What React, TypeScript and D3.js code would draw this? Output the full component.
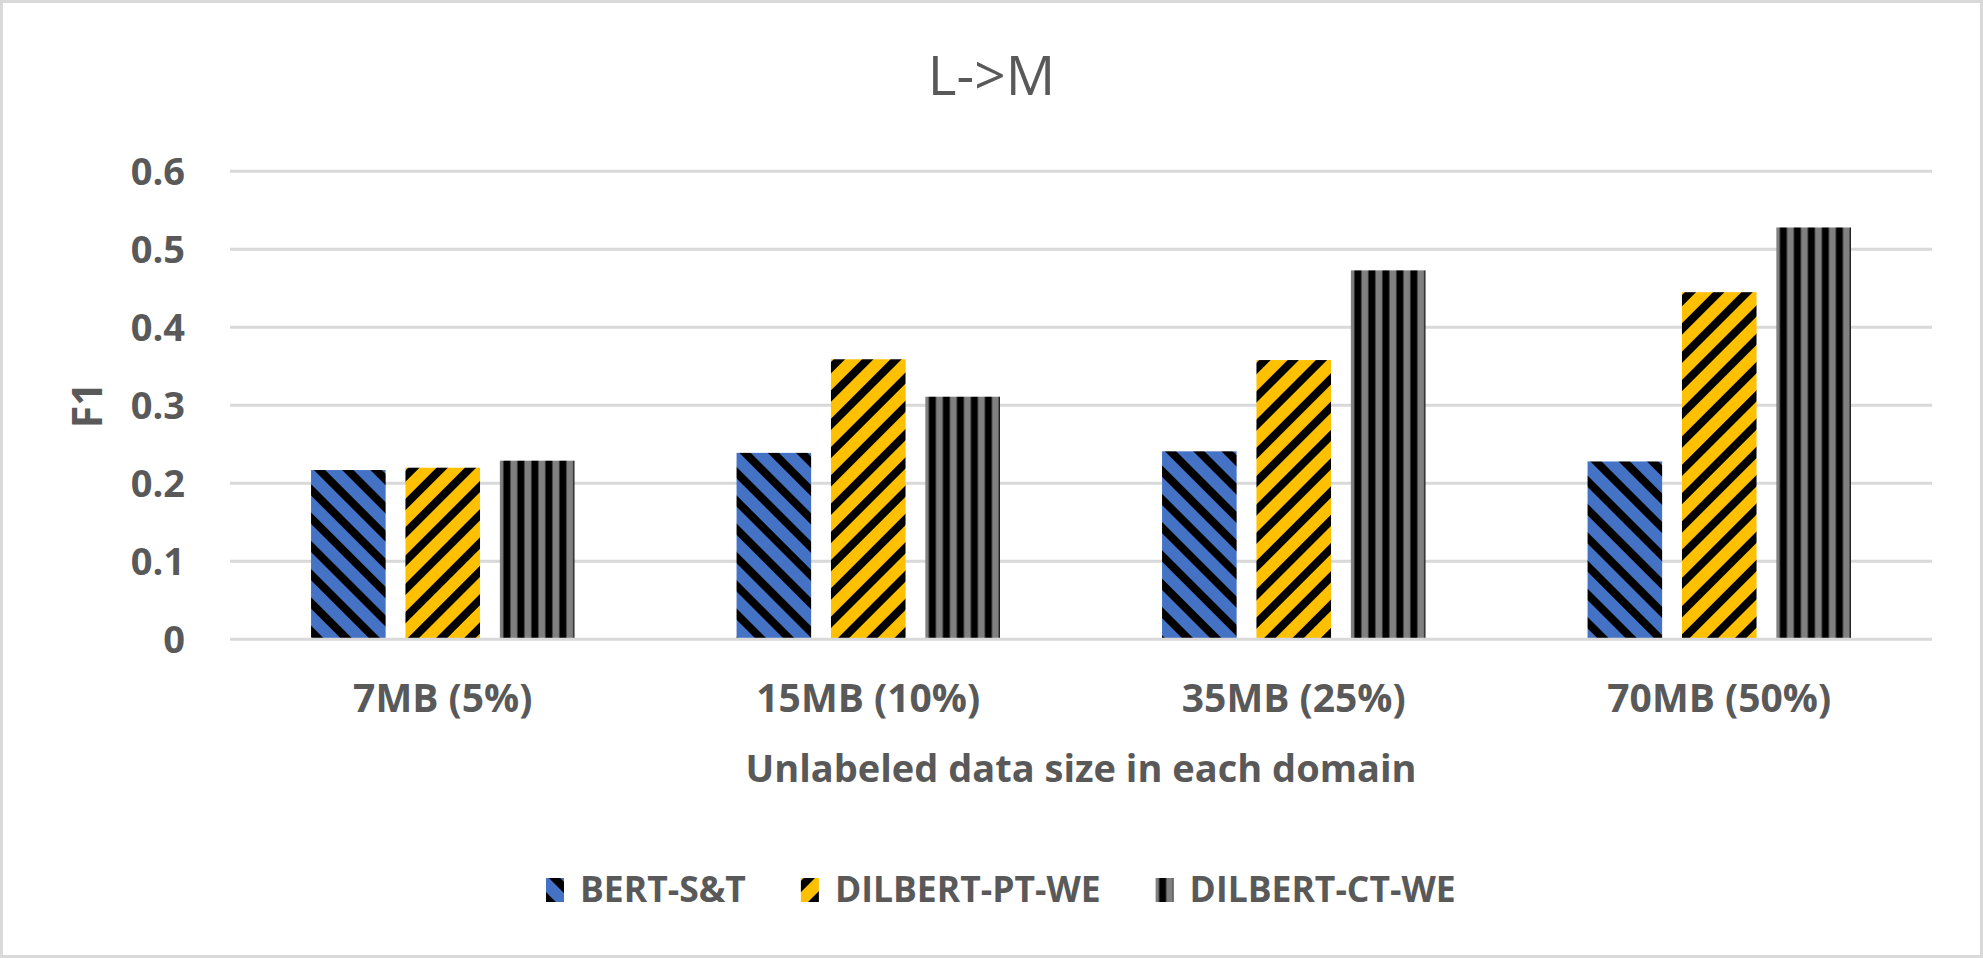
import React, { useEffect, useRef } from 'react';
import * as d3 from 'd3';

// values
const categories = ['7MB (5%)', '15MB (10%)', '35MB (25%)', '70MB (50%)'];
const seriesNames = ['BERT-S&T', 'DILBERT-PT-WE', 'DILBERT-CT-WE'];
const bertST = [0.217, 0.239, 0.241, 0.228];
const dilbertPT = [0.22, 0.359, 0.358, 0.445];
const dilbertCT = [0.229, 0.311, 0.473, 0.528];
const yTicks = [0, 0.1, 0.2, 0.3, 0.4, 0.5, 0.6];
const yTickLabels = ['0', '0.1', '0.2', '0.3', '0.4', '0.5', '0.6'];

const W = 1983;
const H = 958;
const TEXT = '#595959';
const GRID = '#d9d9d9';
const FONT = '"Open Sans", sans-serif';

const App: React.FC = () => {
  const svgRef = useRef<SVGSVGElement>(null);

  useEffect(() => {
    if (!svgRef.current) return;
    const svg = d3.select(svgRef.current);
    svg.selectAll('*').remove();

    const plot = { left: 230, right: 1932, top: 171.3, bottom: 639.3 };
    const series = [bertST, dilbertPT, dilbertCT];
    const fills = ['url(#pat-blue)', 'url(#pat-yellow)', 'url(#pat-gray)'];

    // hatch patterns
    const defs = svg.append('defs');
    const diag = (id: string, color: string, angle: number) => {
      const p = defs.append('pattern')
        .attr('id', id)
        .attr('patternUnits', 'userSpaceOnUse')
        .attr('width', 20)
        .attr('height', 20)
        .attr('patternTransform', `rotate(${angle})`);
      p.append('rect').attr('width', 20).attr('height', 20).attr('fill', color);
      p.append('rect').attr('x', 2).attr('width', 8).attr('height', 20).attr('fill', '#000');
    };
    diag('pat-blue', '#4472c4', -45);
    diag('pat-yellow', '#ffc000', 45);
    const pg = defs.append('pattern')
      .attr('id', 'pat-gray')
      .attr('patternUnits', 'userSpaceOnUse')
      .attr('width', 14)
      .attr('height', 10);
    pg.append('rect').attr('width', 14).attr('height', 10).attr('fill', '#808080');
    pg.append('rect').attr('x', 3.5).attr('width', 7).attr('height', 10).attr('fill', '#000');

    // chart border
    svg.append('rect')
      .attr('x', 1.5).attr('y', 1.5)
      .attr('width', W - 3).attr('height', H - 3)
      .attr('fill', '#fff')
      .attr('stroke', GRID)
      .attr('stroke-width', 3);

    const x0 = d3.scaleBand<string>()
      .domain(categories)
      .range([plot.left, plot.right])
      .paddingInner(0.381)
      .paddingOuter(0.1905);
    const x1 = d3.scaleBand<string>()
      .domain(seriesNames)
      .range([0, x0.bandwidth()])
      .paddingInner(0.21);
    const y = d3.scaleLinear().domain([0, 0.6]).range([plot.bottom, plot.top]);

    // title
    svg.append('text')
      .attr('x', W / 2)
      .attr('y', 95)
      .attr('text-anchor', 'middle')
      .attr('font-family', FONT)
      .attr('font-size', 55)
      .attr('fill', TEXT)
      .text('L->M');

    // gridlines
    svg.append('g')
      .selectAll('line')
      .data(yTicks.filter(t => t > 0))
      .enter()
      .append('line')
      .attr('x1', plot.left)
      .attr('x2', plot.right)
      .attr('y1', d => y(d))
      .attr('y2', d => y(d))
      .attr('stroke', GRID)
      .attr('stroke-width', 3);

    // y tick labels
    svg.append('g')
      .selectAll('text')
      .data(yTicks)
      .enter()
      .append('text')
      .attr('x', 185)
      .attr('y', d => y(d) + 13.5)
      .attr('text-anchor', 'end')
      .attr('font-family', FONT)
      .attr('font-weight', 'bold')
      .attr('font-size', 38)
      .attr('fill', TEXT)
      .text((d, i) => yTickLabels[i]);

    svg.append('text')
      .attr('transform', `translate(102, ${(plot.top + plot.bottom) / 2}) rotate(-90)`)
      .attr('text-anchor', 'middle')
      .attr('font-family', FONT)
      .attr('font-weight', 'bold')
      .attr('font-size', 41)
      .attr('fill', TEXT)
      .text('F1');

    // bars
    const groups = svg.append('g')
      .selectAll('g')
      .data(categories)
      .enter()
      .append('g')
      .attr('transform', d => `translate(${x0(d)}, 0)`);

    groups.selectAll('g')
      .data((d, ci) => seriesNames.map((s, si) => ({ s, si, v: series[si][ci] })))
      .enter()
      .append('g')
      .attr('transform', d => `translate(${x1(d.s)}, ${y(d.v)})`)
      .append('rect')
      .attr('width', x1.bandwidth())
      .attr('height', d => y(0) - y(d.v))
      .attr('fill', d => fills[d.si]);

    // horizontal axis line
    svg.append('line')
      .attr('x1', plot.left)
      .attr('x2', plot.right)
      .attr('y1', y(0))
      .attr('y2', y(0))
      .attr('stroke', GRID)
      .attr('stroke-width', 3);

    // x labels
    svg.append('g')
      .selectAll('text')
      .data(categories)
      .enter()
      .append('text')
      .attr('x', d => (x0(d) as number) + x0.bandwidth() / 2)
      .attr('y', 712)
      .attr('text-anchor', 'middle')
      .attr('font-family', FONT)
      .attr('font-weight', 'bold')
      .attr('font-size', 39)
      .attr('fill', TEXT)
      .text(d => d);

    svg.append('text')
      .attr('x', (plot.left + plot.right) / 2)
      .attr('y', 782)
      .attr('text-anchor', 'middle')
      .attr('font-family', FONT)
      .attr('font-weight', 'bold')
      .attr('font-size', 38)
      .attr('fill', TEXT)
      .text('Unlabeled data size in each domain');

    // legend
    const legend = svg.append('g');
    let lx = 546;
    seriesNames.forEach((name, i) => {
      const item = legend.append('g').attr('transform', `translate(${lx}, 878)`);
      item.append('rect')
        .attr('width', 18)
        .attr('height', 24)
        .attr('fill', fills[i]);
      const t = item.append('text')
        .attr('x', 34)
        .attr('y', 24)
        .attr('font-family', FONT)
        .attr('font-weight', 'bold')
        .attr('font-size', 35.5)
        .attr('fill', TEXT)
        .text(name);
      const tw = (t.node() as SVGTextElement).getComputedTextLength();
      lx += 34 + tw + 55;
    });
  }, []);

  return (
    <svg
      ref={svgRef}
      width={W}
      height={H}
      style={{ position: 'absolute', left: 0, top: 0, background: '#fff' }}
    />
  );
};

export default App;
